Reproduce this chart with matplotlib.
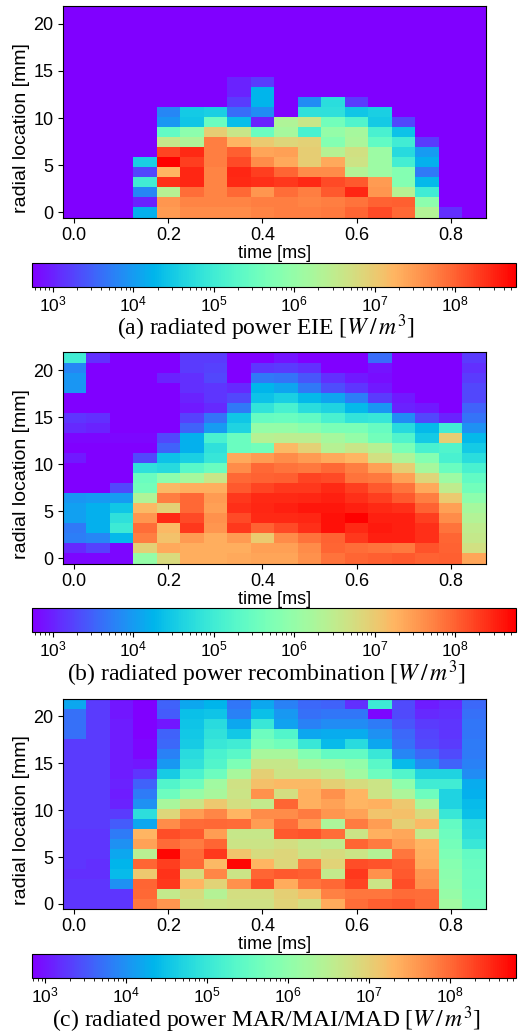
import matplotlib
matplotlib.use('Agg')
import matplotlib.pyplot as plt
from matplotlib.colors import LogNorm
import numpy as np

plt.rcParams['font.family'] = ['Liberation Sans', 'DejaVu Sans']
plt.rcParams['mathtext.fontset'] = 'stix'

# log10 of radiated power. rows run top (21.3 mm) to bottom (0 mm)
lo = 2.7
eie_log = [
    [lo]*18, [lo]*18, [lo]*18, [lo]*18, [lo]*18, [lo]*18, [lo]*18,
    [lo,lo,lo,lo,lo,lo,lo,3.0,3.2,lo,lo,lo,lo,lo,lo,lo,lo,lo],
    [lo,lo,lo,lo,lo,lo,lo,3.0,4.25,lo,lo,lo,lo,lo,lo,lo,lo,lo],
    [lo,lo,lo,lo,lo,lo,lo,3.2,4.25,lo,3.85,4.75,3.2,lo,lo,lo,lo,lo],
    [lo,lo,lo,lo,3.8,4.5,4.55,3.6,3.85,lo,4.8,4.8,4.45,4.55,lo,lo,lo,lo],
    [lo,lo,lo,lo,3.95,4.45,5.5,4.35,3.0,6.3,6.6,5.6,5.2,4.5,3.3,lo,lo,lo],
    [lo,lo,lo,lo,5.4,5.9,6.95,6.6,5.5,6.2,5.1,6.0,6.2,5.1,4.4,lo,lo,lo],
    [lo,lo,lo,lo,6.55,6.3,7.75,7.25,7.0,6.85,6.9,5.8,6.25,5.4,5.0,3.2,lo,lo],
    [lo,lo,lo,lo,8.22,8.43,7.75,8.02,7.4,7.45,6.95,6.4,6.7,6.1,4.7,4.0,lo,lo],
    [lo,lo,lo,4.55,8.76,8.28,7.75,8.17,7.65,7.35,6.95,7.35,6.65,6.1,5.05,4.2,lo,lo],
    [lo,lo,lo,3.3,7.25,8.47,7.7,8.47,8.28,7.98,7.65,7.65,6.35,6.1,5.8,3.7,lo,lo],
    [lo,lo,lo,5.0,8.38,8.47,7.7,8.43,8.38,8.33,8.43,8.17,8.07,7.5,5.8,4.3,lo,lo],
    [lo,lo,lo,3.8,6.4,7.9,7.7,7.95,7.55,7.9,7.75,8.07,8.47,7.55,6.4,5.0,lo,lo],
    [lo,lo,lo,3.0,7.55,7.7,7.7,7.7,7.75,7.75,7.7,7.75,7.85,8.0,8.02,5.9,lo,lo],
    [lo,lo,lo,4.2,7.5,7.65,7.65,7.65,7.7,7.75,7.75,7.8,7.98,8.17,7.95,6.35,3.1,lo],
]
recomb_log = [
    [5.0,3.1,lo,lo,lo,3.2,3.2,lo,lo,2.9,lo,lo,lo,3.6,lo,lo,lo,3.2],
    [3.8,lo,lo,lo,lo,3.2,3.25,lo,3.15,3.2,3.1,lo,lo,2.9,lo,lo,lo,3.1],
    [3.95,lo,lo,lo,3.0,3.1,3.3,lo,3.7,3.65,3.4,3.1,2.95,2.85,lo,lo,lo,3.2],
    [3.95,lo,lo,lo,lo,3.1,3.15,3.05,4.25,4.1,3.7,3.35,3.15,2.95,lo,lo,lo,3.3],
    [lo,lo,lo,lo,lo,3.0,3.15,3.3,4.4,4.55,4.3,4.1,3.75,3.2,2.95,lo,lo,3.3],
    [lo,lo,lo,lo,lo,2.95,3.05,3.7,4.85,5.1,4.75,4.6,4.3,3.95,3.0,2.95,lo,3.5],
    [3.15,3.1,lo,lo,lo,3.25,3.65,4.45,5.45,5.5,5.4,5.1,4.85,4.9,3.85,3.3,3.0,3.65],
    [3.05,3.0,lo,lo,lo,3.5,4.0,4.6,6.0,6.0,5.85,5.7,5.7,5.45,4.7,4.3,5.0,3.9],
    [2.8,2.8,2.8,2.8,3.3,4.2,5.1,5.5,6.4,6.45,6.45,6.2,6.0,5.6,5.2,4.5,6.95,4.3],
    [lo,lo,lo,lo,3.5,4.2,4.8,5.5,5.6,7.2,6.9,6.4,6.6,6.4,5.7,5.1,5.2,4.5],
    [2.95,lo,lo,3.3,4.4,4.55,4.9,7.35,7.5,7.65,7.5,7.35,7.25,6.7,6.3,5.8,5.1,4.75],
    [lo,lo,lo,4.8,4.7,5.3,5.5,7.65,7.95,7.85,7.8,7.95,7.75,7.45,6.95,6.2,5.5,5.1],
    [lo,lo,lo,5.5,5.9,6.2,6.6,7.95,8.0,8.02,8.22,8.17,7.85,7.8,7.45,6.85,6.1,5.4],
    [lo,lo,3.3,5.6,7.2,7.3,7.3,8.07,8.22,8.33,8.33,8.43,8.28,8.07,7.85,7.35,6.5,5.6],
    [3.95,4.0,4.0,6.3,7.75,7.95,7.5,8.33,8.43,8.43,8.47,8.52,8.38,8.28,8.07,7.75,7.0,5.9],
    [4.05,4.2,4.45,7.2,6.9,7.95,7.45,8.38,8.47,8.52,8.58,8.58,8.52,8.43,8.38,8.0,7.45,6.2],
    [4.05,4.2,4.8,7.55,8.43,8.17,7.6,8.17,8.43,8.43,8.47,8.62,8.76,8.52,8.52,8.28,7.65,6.35],
    [3.7,4.2,4.95,7.9,7.2,8.33,7.55,8.33,8.0,8.17,8.38,8.62,8.43,8.55,8.52,8.38,7.85,6.5],
    [3.75,3.8,4.3,7.75,7.1,7.5,7.3,7.5,7.0,7.65,7.85,8.0,8.33,8.52,8.52,8.38,7.98,6.55],
    [3.05,3.25,2.8,6.9,7.35,7.3,7.3,7.3,7.45,7.45,7.65,7.98,7.9,7.85,7.8,8.12,8.0,6.7],
    [2.8,2.8,2.8,6.0,6.8,7.3,7.3,7.35,7.4,7.4,7.6,7.85,7.98,8.02,8.07,8.0,8.02,7.4],
]
mar_log = [
    [4.2,3.3,3.0,2.75,3.6,4.2,4.35,3.75,4.2,3.85,3.65,3.6,3.2,5.05,3.4,3.05,3.15,3.65],
    [3.7,3.3,3.0,2.8,3.55,4.45,4.5,3.85,4.45,4.05,3.7,3.75,3.75,2.9,3.4,3.15,3.2,3.7],
    [3.7,3.3,3.05,2.85,3.0,4.5,4.8,4.2,5.0,4.15,3.85,3.95,3.95,3.8,3.5,3.3,3.25,3.75],
    [3.7,3.3,3.05,2.85,3.6,4.55,4.9,4.55,5.6,5.3,4.2,4.25,4.25,4.0,3.65,3.35,3.25,3.75],
    [3.3,3.3,3.05,2.9,3.65,4.6,5.0,5.1,5.8,5.65,5.0,4.4,4.8,4.2,3.7,3.4,3.3,3.8],
    [3.3,3.3,3.05,2.9,3.85,4.8,5.2,5.4,6.3,6.3,5.85,5.5,5.5,5.0,3.9,3.65,3.4,3.8],
    [3.3,3.3,3.05,3.0,4.05,4.9,5.3,5.8,6.65,6.65,6.3,6.2,6.05,5.4,4.4,3.95,3.6,3.85],
    [3.3,3.3,3.05,3.25,4.6,5.2,5.6,6.3,7.0,6.7,6.7,6.55,6.2,5.6,5.3,4.7,4.7,3.95],
    [3.3,3.3,3.1,3.6,5.3,5.6,6.2,6.75,7.2,7.25,7.25,7.0,6.85,6.7,6.0,5.1,5.1,4.25],
    [3.3,3.3,3.05,3.8,5.6,6.1,6.3,6.7,7.65,6.8,7.35,7.65,7.3,6.7,6.35,5.6,4.7,4.3],
    [3.3,3.3,3.1,4.0,6.3,6.7,7.1,6.8,6.6,8.02,7.35,7.5,7.3,7.35,7.1,6.3,4.7,4.4],
    [3.3,3.3,3.3,4.85,6.9,7.55,7.75,7.3,7.7,7.7,7.85,7.6,7.5,7.15,7.2,6.85,5.0,4.45],
    [3.3,3.3,3.55,4.2,7.7,7.98,8.0,7.98,7.55,7.95,7.55,6.35,7.85,7.55,7.0,7.25,5.5,4.8],
    [3.25,3.25,3.8,7.3,8.22,8.12,7.55,6.65,6.65,8.12,8.17,7.95,6.7,7.35,7.45,6.6,5.6,4.85],
    [3.25,3.25,4.0,7.5,7.98,7.85,8.02,6.7,6.7,6.8,6.65,6.55,8.02,7.85,7.55,7.3,5.7,5.0],
    [3.25,3.25,4.2,6.5,8.76,7.98,8.38,7.15,6.85,6.9,6.7,6.85,6.7,6.45,7.9,7.35,5.8,5.5],
    [3.25,3.2,4.35,8.02,8.33,8.0,7.25,8.76,7.3,6.9,7.85,6.95,8.22,8.17,8.07,7.4,5.9,5.55],
    [3.2,3.2,4.4,7.1,8.43,6.85,7.75,6.7,8.02,8.12,8.07,6.6,8.38,7.65,8.12,7.6,5.95,5.6],
    [3.25,3.25,4.0,8.02,8.38,7.3,6.95,7.65,8.22,7.4,7.9,8.0,8.28,6.7,8.22,7.65,6.0,5.6],
    [3.25,3.25,3.25,8.0,6.6,6.85,6.45,6.8,6.8,7.0,7.2,7.8,7.9,7.9,7.98,7.95,6.1,5.65],
    [3.25,3.25,3.25,7.9,7.6,6.75,6.7,6.75,6.75,6.95,6.8,7.4,7.95,8.07,8.12,7.98,6.2,5.7],
]
labels = [r'(a) radiated power EIE [$W\,/\,m^3$]',
          r'(b) radiated power recombination [$W\,/\,m^3$]',
          r'(c) radiated power MAR/MAI/MAD [$W\,/\,m^3$]']
vmins = [550, 550, 684]
vmaxs = [5.7e8, 5.7e8, 6.5e8]
cb_ticks = [1e3, 1e4, 1e5, 1e6, 1e7, 1e8]

W, H = 524, 1034
# pixel rows of axes top/bottom, colorbar top/bottom, caption centre
ax_y = [(6, 217.5), (352.5, 563.5), (698.5, 909)]
cb_y = [(262.5, 287), (608, 632), (954, 978)]
cap_y = [328, 674, 1020]

x_edges = -0.025 + 0.05*np.arange(19)
y_edges = (np.arange(22) - 0.5)*16/15


def px_axes(fig, left, top, right, bottom):
    return fig.add_axes([left/W, 1 - bottom/H, (right - left)/W, (bottom - top)/H])


fig = plt.figure(figsize=(W/100, H/100), dpi=100)
for i, data in enumerate([eie_log, recomb_log, mar_log]):
    z = 10.0**np.array(data)[::-1]
    ax = px_axes(fig, 62.5, ax_y[i][0], 486, ax_y[i][1])
    norm = LogNorm(vmin=vmins[i], vmax=vmaxs[i])
    mesh = ax.pcolormesh(x_edges, y_edges, z, cmap='rainbow', norm=norm, rasterized=True)
    ax.set_xlim(-0.025, 0.875)
    ax.set_xticks([0.0, 0.2, 0.4, 0.6, 0.8])
    ax.set_yticks([0, 5, 10, 15, 20])
    ax.tick_params(labelsize=13, pad=3)
    ax.set_xlabel('time [ms]', fontsize=13, labelpad=1)
    ax.set_ylabel('radial location [mm]', fontsize=14)
    ax.yaxis.set_label_coords(-0.077, 0.424)

    cax = px_axes(fig, 32, cb_y[i][0], 516, cb_y[i][1])
    cb = fig.colorbar(mesh, cax=cax, orientation='horizontal')
    cb.set_ticks(cb_ticks)
    cb.ax.tick_params(labelsize=12.5, pad=2)

    fig.text(266/W, 1 - cap_y[i]/H, labels[i], ha='center', va='center', fontsize=17,
             family=['Liberation Serif', 'DejaVu Serif'])

fig.savefig('out.png', dpi=100)
